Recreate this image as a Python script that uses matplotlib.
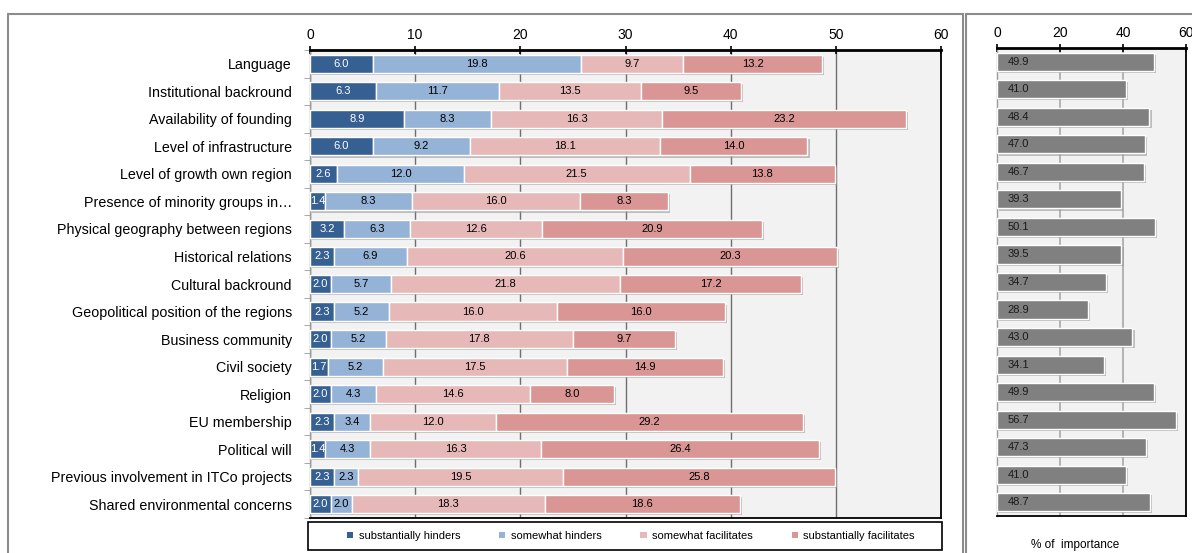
import matplotlib
matplotlib.use("Agg")
import matplotlib.pyplot as plt
import matplotlib.patheffects as pe
from matplotlib.patches import Patch, Rectangle
import numpy as np

plt.rcParams['font.family'] = ['Liberation Sans', 'DejaVu Sans']

categories = [
    "Language", "Institutional backround", "Availability of founding",
    "Level of infrastructure", "Level of growth own region",
    "Presence of minority groups in\u2026", "Physical geography between regions",
    "Historical relations", "Cultural backround",
    "Geopolitical position of the regions", "Business community",
    "Civil society", "Religion", "EU membership", "Political will",
    "Previous involvement in ITCo projects", "Shared environmental concerns",
]
substantially_hinders = [6.0, 6.3, 8.9, 6.0, 2.6, 1.4, 3.2, 2.3, 2.0, 2.3, 2.0, 1.7, 2.0, 2.3, 1.4, 2.3, 2.0]
somewhat_hinders = [19.8, 11.7, 8.3, 9.2, 12.0, 8.3, 6.3, 6.9, 5.7, 5.2, 5.2, 5.2, 4.3, 3.4, 4.3, 2.3, 2.0]
somewhat_facilitates = [9.7, 13.5, 16.3, 18.1, 21.5, 16.0, 12.6, 20.6, 21.8, 16.0, 17.8, 17.5, 14.6, 12.0, 16.3, 19.5, 18.3]
substantially_facilitates = [13.2, 9.5, 23.2, 14.0, 13.8, 8.3, 20.9, 20.3, 17.2, 16.0, 9.7, 14.9, 8.0, 29.2, 26.4, 25.8, 18.6]
importance = [49.9, 41.0, 48.4, 47.0, 46.7, 39.3, 50.1, 39.5, 34.7, 28.9, 43.0, 34.1, 49.9, 56.7, 47.3, 41.0, 48.7]

series = [
    ("substantially hinders", substantially_hinders, "#376092", "white"),
    ("somewhat hinders", somewhat_hinders, "#95B3D7", "black"),
    ("somewhat facilitates", somewhat_facilitates, "#E6B9B8", "black"),
    ("substantially facilitates", substantially_facilitates, "#D99694", "black"),
]

W, H = 1192, 553
fig = plt.figure(figsize=(W / 100, H / 100), dpi=100)

def px_axes(x0, y0, x1, y1):
    return fig.add_axes([x0 / W, 1 - y1 / H, (x1 - x0) / W, (y1 - y0) / H])

def px_rect(x0, y0, x1, y1, **kw):
    fig.patches.append(Rectangle((x0 / W, 1 - y1 / H), (x1 - x0) / W, (y1 - y0) / H,
                                 transform=fig.transFigure, fill=False, **kw))

# panel frames
px_rect(8, 14, 963, 560, edgecolor="#8c8c8c", linewidth=1.5, zorder=0)
px_rect(966, 14, 1205, 560, edgecolor="#8c8c8c", linewidth=1.5, zorder=0)
# legend frame
px_rect(308, 522, 942, 550, edgecolor="black", linewidth=1.2, zorder=1)

shadow = [pe.SimplePatchShadow(offset=(1.5, -1.5), shadow_rgbFace="#9a9a9a", alpha=0.6), pe.Normal()]

def style_axes(ax, xmax, step):
    ax.set_facecolor("#f2f2f2")
    ax.set_xlim(0, xmax)
    ax.set_ylim(len(categories) - 0.5, -0.5)
    ax.xaxis.tick_top()
    ax.set_xticks(np.arange(0, xmax + 1, step))
    ax.tick_params(axis="x", direction="inout", length=6, width=1.2, labelsize=10,
                   pad=3, color="black")
    ax.grid(axis="x", color="#6e6e6e", linewidth=1.0, zorder=0)
    ax.set_axisbelow(True)
    for s in ["top", "right", "bottom"]:
        ax.spines[s].set_color("black")
        ax.spines[s].set_linewidth(1.3)
    ax.spines["top"].set_linewidth(2.0)
    ax.spines["left"].set_color("#9a9a9a")
    ax.spines["left"].set_linewidth(1.0)

# stacked bars
ax = px_axes(310, 50, 941, 518)
style_axes(ax, 60, 10)
y = np.arange(len(categories))
left = np.zeros(len(categories))
for name, vals, color, tcolor in series:
    vals = np.array(vals)
    bars = ax.barh(y, vals, left=left, height=0.66, color=color, edgecolor="white",
                   linewidth=1.0, label=name, zorder=3)
    for b in bars:
        b.set_path_effects(shadow)
    for yi, l, v in zip(y, left, vals):
        ax.text(l + v / 2, yi, f"{v:.1f}", ha="center", va="center",
                fontsize=8, color=tcolor, zorder=4)
    left = left + vals
ax.set_yticks(y)
ax.set_yticklabels(categories, fontsize=10.3)
ax.tick_params(axis="y", length=0, pad=13)
ax.set_yticks(np.arange(-0.5, len(categories), 1), minor=True)
ax.tick_params(axis="y", which="minor", length=4, color="#9a9a9a", direction="out")

handles = [Patch(facecolor=c, edgecolor="none", label=n) for n, _, c, _ in series]
leg = fig.legend(handles=handles, loc="center", ncol=4, frameon=False,
                 fontsize=8, handlelength=0.55, handleheight=0.55, handletextpad=0.5,
                 bbox_to_anchor=(631 / W, 1 - 536 / H), borderpad=0.3,
                 borderaxespad=0, columnspacing=3.5)

# importance panel
ax2 = px_axes(997, 48, 1186, 516)
style_axes(ax2, 60, 20)
bars = ax2.barh(y, importance, height=0.66, color="#808080", edgecolor="white",
                linewidth=1.0, zorder=3)
for b in bars:
    b.set_path_effects(shadow)
for yi, v in zip(y, importance):
    ax2.text(3.4, yi, f"{v:.1f}", ha="left", va="center", fontsize=8, color="#1a1a1a", zorder=4)
ax2.set_yticks([])
ax2.grid(axis="x", color="#a8a8a8", linewidth=1.2, zorder=0)
fig.text(1075 / W, 1 - 545 / H, "% of  importance", ha="center", va="center", fontsize=8.5)

fig.savefig("out.png", dpi=100)
